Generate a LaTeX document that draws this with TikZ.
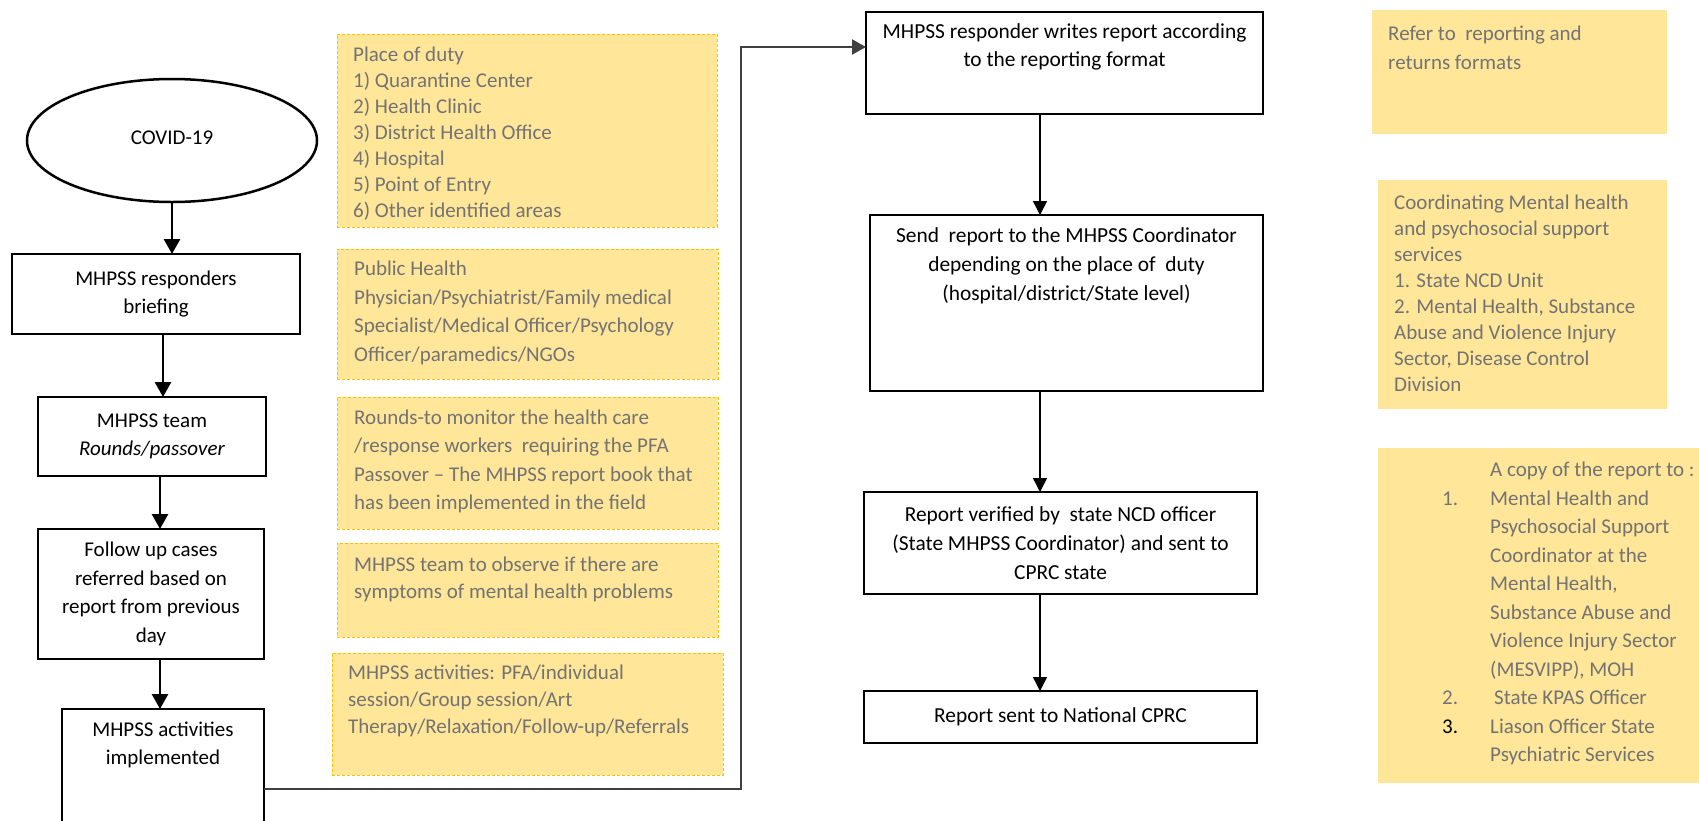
\documentclass[tikz,border=0pt]{standalone}
\usepackage{fontspec}
\setmainfont{Carlito}
\usetikzlibrary{arrows.meta,shapes.geometric}
\definecolor{ylfill}{HTML}{FFE699}
\definecolor{yldash}{HTML}{FFC000}
\definecolor{gtext}{HTML}{737373}
\definecolor{conn}{HTML}{404040}
\begin{document}
\begin{tikzpicture}[x=1pt,y=-1pt,
 fbox/.style={draw=black, line width=1.4pt, inner sep=0pt, outer sep=0pt, align=center, font=\fontsize{21}{28.5}\selectfont},
 rfbox/.style={fbox, font=\fontsize{21.4}{29}\selectfont},
 ybox/.style={fill=ylfill, draw=yldash, line width=1pt, dash pattern=on 3pt off 2pt, inner sep=0pt, outer sep=0pt},
 rbox/.style={fill=ylfill, inner sep=0pt, outer sep=0pt},
 btext/.style={align=center, inner sep=0pt, font=\fontsize{21}{28.5}\selectfont},
 ytext/.style={align=left, inner sep=0pt, text=gtext, anchor=west},
 arrL/.style={line width=2.8pt, -{Triangle[width=16pt,length=15pt]}},
 arrR/.style={line width=1.4pt, -{Triangle[width=14pt,length=14pt]}},
 arrC/.style={draw=conn, line width=2.2pt, -{Triangle[width=15pt,length=14pt]}},
]
\useasboundingbox (0,0) rectangle (1699,820);
\begin{scope}
\clip (0,0) rectangle (1699,820);
% left flow
\node[ellipse, draw=black, line width=2.5pt, minimum width=290pt, minimum height=123pt, inner sep=0pt, outer sep=0pt, font=\fontsize{21}{28}\selectfont] (covid) at (172,140.5) {\raisebox{5pt}{COVID-19}};
\node[fbox, minimum width=288pt, minimum height=80pt] (brief) at (156,294) {MHPSS responders\\briefing};
\node[fbox, minimum width=228pt, minimum height=79pt] (team) at (152,436.5) {MHPSS team\\\textit{Rounds/passover}};
\node[fbox, minimum width=226pt, minimum height=130pt] (follow) at (151,594) {Follow up cases\\referred based on\\report from previous\\day};
\node[fbox, minimum width=202pt, minimum height=160pt] (act) at (163,789) {};
\node[btext] (actt) at (163,745) {MHPSS activities\\implemented};

\draw[arrL] (covid.south) -- (covid.south |- brief.north);
\draw[arrL] ([xshift=7pt]brief.south) -- ([xshift=7pt]brief.south |- team.north);
\draw[arrL] ([xshift=8pt]team.south) -- ([xshift=8pt]team.south |- follow.north);
\draw[arrL] ([xshift=9pt]follow.south) -- ([xshift=9pt]follow.south |- act.north);

% yellow boxes
\node[ybox, minimum width=380pt, minimum height=193pt] (y1) at (527,130.5) {};
\node[ytext, font=\fontsize{21}{26}\selectfont] (y1t) at (353,133.7) {Place of duty\\1) Quarantine Center\\2) Health Clinic\\3) District Health Office\\4) Hospital\\5) Point of Entry\\6) Other identified areas};
\node[ybox, minimum width=381pt, minimum height=130pt] (y2) at (527.5,314) {};
\node[ytext, font=\fontsize{21}{28.7}\selectfont] (y2t) at (354,313) {Public Health\\Physician/Psychiatrist/Family medical\\Specialist/Medical Officer/Psychology\\Officer/paramedics/NGOs};
\node[ybox, minimum width=381pt, minimum height=132pt] (y3) at (527.5,463) {};
\node[ytext, font=\fontsize{21}{28.3}\selectfont] (y3t) at (354,461.5) {Rounds-to monitor the health care\\/response workers\ \ requiring the PFA\\Passover -- The MHPSS report book that\\has been implemented in the field};
\node[ybox, minimum width=381pt, minimum height=94pt] (y4) at (527.5,590) {};
\node[ytext, font=\fontsize{21}{27.7}\selectfont] (y4t) at (354,579.5) {MHPSS team to observe if there are\\symptoms of mental health problems};
\node[ybox, minimum width=391pt, minimum height=122pt] (y5) at (527.5,714) {};
\node[ytext, font=\fontsize{21}{26.7}\selectfont] (y5t) at (348,701) {MHPSS activities: PFA/individual\\session/Group session/Art\\Therapy/Relaxation/Follow-up/Referrals};

% right flow
\node[rfbox, minimum width=397pt, minimum height=102pt] (A) at (1064.5,63) {};
\node[btext, font=\fontsize{21.4}{28.5}\selectfont] (At) at (1064.5,47) {MHPSS responder writes report according\\to the reporting format};
\node[rfbox, minimum width=393pt, minimum height=176pt] (B) at (1066.5,303) {};
\node[btext, font=\fontsize{21.4}{29}\selectfont] (Bt) at (1066.5,266) {Send\ \ report to the MHPSS Coordinator\\depending on the place of\ \ duty\\(hospital/district/State level)};
\node[rfbox, minimum width=393pt, minimum height=102pt] (C) at (1060.5,543) {Report verified by\ \ state NCD officer\\(State MHPSS Coordinator) and sent to\\CPRC state};
\node[rfbox, minimum width=393pt, minimum height=52pt] (D) at (1060.5,717) {\raisebox{3pt}{Report sent to National CPRC}};

\draw[arrR] ([xshift=-24.5pt]A.south) -- ([xshift=-24.5pt]A.south |- B.north);
\draw[arrR] ([xshift=-26.5pt]B.south) -- ([xshift=-26.5pt]B.south |- C.north);
\draw[arrR] ([xshift=-20.5pt]C.south) -- ([xshift=-20.5pt]C.south |- D.north);

% long connector
\coordinate (k1) at (741,789);
\coordinate (k2) at (741,47);
\draw[arrC] (act.east) -- (k1) -- (k2) -- (k2 -| A.west);

% right notes
\node[rbox, minimum width=295pt, minimum height=124pt] (r1) at (1519.5,72) {};
\node[ytext, font=\fontsize{21}{29}\selectfont] (r1t) at (1388,47.5) {Refer to\ \ reporting and\\returns formats};
\node[rbox, minimum width=289pt, minimum height=229pt] (r2) at (1522.5,294.5) {};
\node[ytext, font=\fontsize{21}{26}\selectfont] (r2t) at (1394,293) {Coordinating Mental health\\and psychosocial support\\services\\1. State NCD Unit\\2. Mental Health, Substance\\Abuse and Violence Injury\\Sector, Disease Control\\Division};
\node[rbox, minimum width=330pt, minimum height=335pt] (r3) at (1543,615.5) {};
\node[ytext, font=\fontsize{21}{28.5}\selectfont] (r3t) at (1442,613.5) {\hspace*{48pt}A copy of the report to :\\
\makebox[48pt][l]{1.}Mental Health and\\
\hspace*{48pt}Psychosocial Support\\
\hspace*{48pt}Coordinator at the\\
\hspace*{48pt}Mental Health,\\
\hspace*{48pt}Substance Abuse and\\
\hspace*{48pt}Violence Injury Sector\\
\hspace*{48pt}(MESVIPP), MOH\\
\makebox[48pt][l]{2.}\hspace*{4pt}State KPAS Officer\\
\makebox[48pt][l]{\textcolor{black}{3.}}Liason Officer State\\
\hspace*{48pt}Psychiatric Services};
\end{scope}
\end{tikzpicture}
\end{document}
